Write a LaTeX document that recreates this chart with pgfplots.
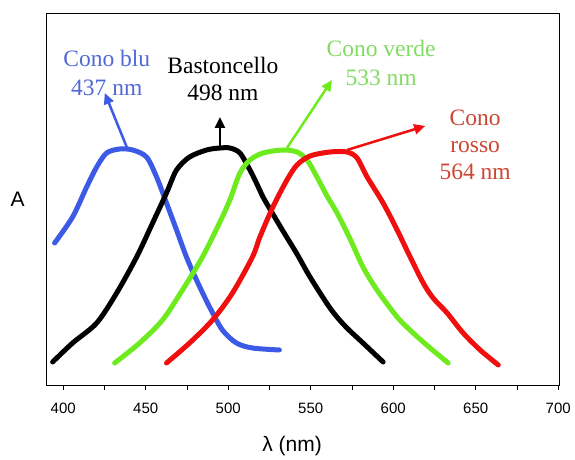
\documentclass[border=0pt]{standalone}
\usepackage{pgfplots}
\pgfplotsset{compat=1.18}
\usepackage{fontspec}
\setmainfont{Liberation Sans}
\newfontfamily\seriffont{Liberation Serif}
\usetikzlibrary{arrows.meta}
\definecolor{cblue}{RGB}{60,90,230}
\definecolor{cgreen}{RGB}{110,235,30}
\definecolor{cred}{RGB}{240,15,15}
\definecolor{tblue}{RGB}{80,105,215}
\definecolor{tgreen}{RGB}{130,220,100}
\definecolor{tred}{RGB}{205,70,50}
\begin{document}
\begin{tikzpicture}
\begin{axis}[name=ax, scale only axis, width=512.3pt, height=371pt,
  xmin=390, xmax=700.5, ymin=3, ymax=374,
  xtick={400,450,...,700}, minor x tick num=1, ytick=\empty,
  tick align=outside, xtick pos=lower,
  major tick length=5pt, minor tick length=5pt,
  tick style={black, line width=0.8pt},
  axis line style={line width=1pt},
  /pgf/number format/assume math mode=true,
  xticklabel style={font=\fontsize{15}{17}\selectfont, yshift=-9pt},
  clip=false]
\addplot[cblue, line width=5pt, smooth, line cap=round, line join=round] coordinates {
(394.8,145) (405.7,171) (414.2,201) (420.3,221) (426.3,235) (434.2,239) (442.1,238) (450.5,231) (456.6,211) (462.6,185) (468.7,158) (474.7,131) (480.8,108) (488.7,81) (496.5,58) (505.0,45) (514.7,40) (531.0,38)};
\addplot[black, line width=5pt, smooth, line cap=round, line join=round] coordinates {
(393.6,26) (405.7,45) (420.3,65) (432.4,95) (444.5,131) (454.2,165) (462.6,195) (468.7,218) (476.6,231) (486.9,238) (495.0,240) (501.0,240) (507.1,235) (513.2,218) (517.4,204) (521.1,191) (525.3,179) (533.2,157) (541.7,134) (549.6,111) (561.7,80) (570.8,62) (581.7,45) (593.9,26)};
\addplot[cgreen, line width=5pt, smooth, line cap=round, line join=round] coordinates {
(431.2,25) (446.3,45) (460.2,68) (472.3,98) (484.4,131) (494.7,165) (501.0,188) (507.1,215) (513.2,228) (521.1,235) (533.2,238) (541.7,236) (547.8,228) (553.8,211) (559.9,192) (566.0,175) (573.9,149) (581.7,121) (590.2,98) (602.4,71) (612.1,55) (622.4,40) (633.3,25)};
\addplot[cred, line width=5pt, smooth, line cap=round, line join=round] coordinates {
(462.6,25) (476.6,45) (490.5,68) (502.6,95) (514.7,131) (519.2,151) (527.1,181) (535.6,208) (541.7,223) (549.6,232) (561.7,236) (572.0,236) (578.1,230) (584.2,211) (593.9,185) (602.4,158) (610.3,131) (618.2,105) (624.2,90) (632.7,75) (642.4,55) (652.7,38) (663.7,23)};
% arrows
\addplot[cblue, line width=2.5pt, -{Triangle[length=11pt,width=10pt]}] coordinates {(438.5,241) (425.2,295)};
\addplot[black, line width=2.5pt, -{Triangle[length=11pt,width=10pt]}] coordinates {(495.0,241) (495.0,271)};
\addplot[cgreen, line width=2.5pt, -{Triangle[length=11pt,width=10pt]}] coordinates {(535.6,240) (562.9,308)};
\addplot[cred, line width=2.5pt, -{Triangle[length=11pt,width=10pt]}] coordinates {(572.0,238) (619.4,262)};
% labels
\node[tblue, align=center, font=\seriffont\fontsize{23.5}{29}\selectfont] at (axis cs:426.4,315.5) {Cono blu\\437 nm};
\node[black, align=center, font=\seriffont\fontsize{23.5}{27}\selectfont] at (axis cs:496.8,309.5) {Bastoncello\\498 nm};
\node[tgreen, align=center, font=\seriffont\fontsize{23.5}{29}\selectfont] at (axis cs:592.7,325.5) {Cono verde\\533 nm};
\node[tred, align=center, font=\seriffont\fontsize{23.5}{27}\selectfont] at (axis cs:649.7,243) {Cono\\rosso\\564 nm};
\node[font=\fontsize{21}{24}\selectfont] at (rel axis cs:0,0.5) [xshift=-29pt] {A};
\node[font=\fontsize{21}{24}\selectfont] at (axis cs:538.7,3) [yshift=-61pt] {λ (nm)};
\end{axis}
\path (ax.south west) ++(-46.7pt,-70pt) rectangle ++(575pt,455pt);
\end{tikzpicture}
\end{document}
